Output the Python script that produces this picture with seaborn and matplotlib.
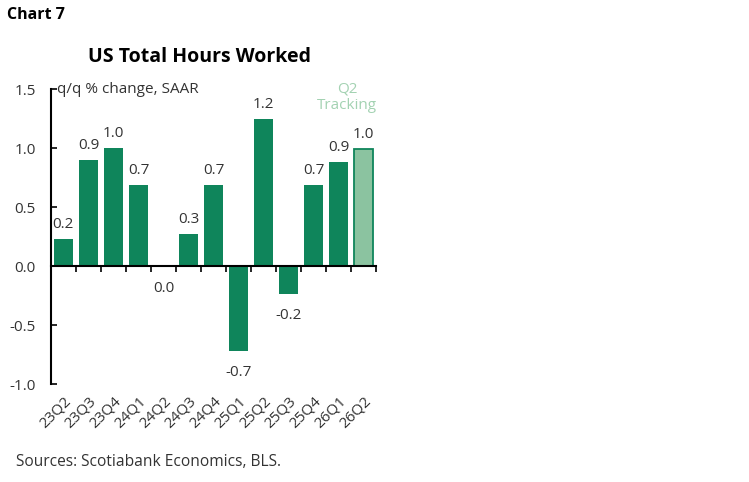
import numpy as np
import pandas as pd
import seaborn as sns
import matplotlib.pyplot as plt

# 数据
quarters = ['23Q2', '23Q3', '23Q4', '24Q1', '24Q2', '24Q3', '24Q4',
            '25Q1', '25Q2', '25Q3', '25Q4', '26Q1', '26Q2']
hours_qq = [0.23, 0.90, 1.00, 0.69, -0.01, 0.27, 0.69,
            -0.72, 1.25, -0.24, 0.69, 0.88, 0.99]
value_labels = ['0.2', '0.9', '1.0', '0.7', '0.0', '0.3', '0.7',
                '-0.7', '1.2', '-0.2', '0.7', '0.9', '1.0']
status = ['Actual'] * 12 + ['Tracking']

DARK = '#0f855b'
LIGHT = '#8bc3a0'
TRACK_TXT = '#a3d2b2'
TXT = '#333333'
FS = 11

sns.set_style('white')
plt.rcParams['font.family'] = ['Open Sans', 'DejaVu Sans']

df = pd.DataFrame({'quarter': quarters, 'value': hours_qq, 'status': status})

fig = plt.figure(figsize=(7.49, 4.82), dpi=100)
ax = fig.add_axes([0.068, 0.203, 0.434, 0.612])

sns.barplot(data=df, x='quarter', y='value', hue='status',
            palette={'Actual': DARK, 'Tracking': LIGHT}, saturation=1,
            dodge=False, width=0.76, legend=False, ax=ax)

# 最后一根柱子（跟踪值）加深色边框
for i, p in enumerate(sorted(ax.patches, key=lambda b: b.get_x())):
    p.set_linewidth(0)
    if status[i] == 'Tracking':
        p.set_edgecolor(DARK)
        p.set_linewidth(1.3)

# 数据标签：正值在上，负值在下（负值稍远）
for cont in ax.containers:
    for bar in cont:
        idx = int(round(bar.get_x() + bar.get_width() / 2))
        val = hours_qq[idx]
        off = 5 if val > 0 else 10
        ax.annotate(value_labels[idx],
                    xy=(bar.get_x() + bar.get_width() / 2, val),
                    xytext=(0, off if val > 0 else -off),
                    textcoords='offset points', ha='center',
                    va='bottom' if val > 0 else 'top',
                    fontsize=FS, color=TXT)

ax.set_ylim(-1.0, 1.5)
ax.set_xlim(-0.5, len(quarters) - 0.5)
ax.set_yticks([-1.0, -0.5, 0.0, 0.5, 1.0, 1.5])
ax.set_yticklabels(['-1.0', '-0.5', '0.0', '0.5', '1.0', '1.5'])
ax.tick_params(axis='y', direction='in', length=4, width=1.2, labelsize=FS,
               colors='black', labelcolor=TXT, pad=11, left=True)
ax.tick_params(axis='x', length=0, labelsize=FS, labelcolor=TXT, pad=7)
for lbl in ax.get_xticklabels():
    lbl.set_rotation(45)
    lbl.set_ha('right')
    lbl.set_rotation_mode('anchor')

ax.set_xlabel('')
ax.set_ylabel('')
for s in ['top', 'right', 'bottom']:
    ax.spines[s].set_visible(False)
ax.spines['left'].set_color('black')
ax.spines['left'].set_linewidth(1.5)

# 零线与分隔刻度
sec = ax.secondary_xaxis(0.4)
sec.set_zorder(5)
sec.set_xticks(np.arange(-0.5, len(quarters), 1.0))
sec.set_xticklabels([])
sec.tick_params(direction='out', length=4, width=1.2, colors='black')
sec.spines['bottom'].set_color('black')
sec.spines['bottom'].set_linewidth(1.5)

ax.text(-0.26, 1.5, 'q/q % change, SAAR', fontsize=FS, color=TXT,
        va='center', ha='left')
ax.text(11.35, 1.43, 'Q2\nTracking', fontsize=FS, color=TRACK_TXT,
        ha='center', va='center', linespacing=1.1)

fig.text(0.267, 0.882, 'US Total Hours Worked', fontsize=14, fontweight='bold',
         ha='center', va='center', color='black')
fig.text(0.009, 0.969, 'Chart 7', fontsize=11.5, fontweight='bold',
         ha='left', va='center', color='black')
fig.text(0.022, 0.042, 'Sources: Scotiabank Economics, BLS.', fontsize=FS + 0.2,
         ha='left', va='center', color=TXT)

fig.savefig('out.png', dpi=100)
